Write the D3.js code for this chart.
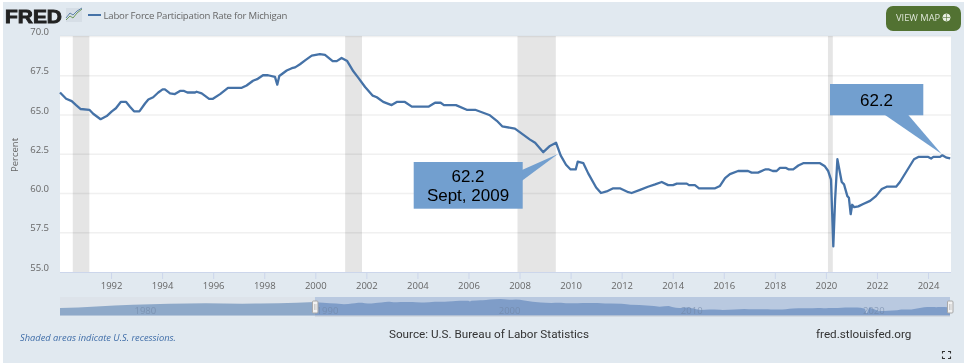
<!DOCTYPE html>
<html><head><meta charset="utf-8">
<script src="https://cdn.jsdelivr.net/npm/d3@7/dist/d3.min.js"></script>
<style>
html,body{margin:0;padding:0;background:#fff;overflow:hidden}
svg{display:block}
text{font-family:"Open Sans",sans-serif}
</style></head><body>
<svg id="c" width="966" height="364"></svg>
<script>
const seriesName = "Labor Force Participation Rate for Michigan";
const years = [1990.0,1990.24,1990.46,1990.63,1990.81,1991.15,1991.30,1991.59,1991.83,1992.03,1992.19,1992.38,1992.59,1992.74,1992.90,1993.11,1993.33,1993.46,1993.65,1993.85,1994.02,1994.11,1994.31,1994.50,1994.70,1994.86,1994.99,1995.29,1995.35,1995.55,1995.84,1995.99,1996.27,1996.58,1997.12,1997.31,1997.56,1997.72,1997.95,1998.15,1998.42,1998.51,1998.59,1998.88,1999.08,1999.21,1999.40,1999.60,1999.86,2000.18,2000.38,2000.68,2000.84,2001.03,2001.25,2001.49,2001.68,2001.95,2002.25,2002.41,2002.66,2002.99,2003.19,2003.51,2003.78,2004.43,2004.69,2004.91,2005.04,2005.51,2005.93,2006.26,2006.84,2007.11,2007.32,2007.82,2008.41,2008.61,2008.93,2009.19,2009.43,2009.61,2009.82,2010.00,2010.20,2010.28,2010.50,2010.69,2011.00,2011.19,2011.41,2011.67,2011.93,2012.26,2012.39,2012.72,2013.03,2013.31,2013.57,2013.82,2014.01,2014.16,2014.55,2014.64,2014.87,2015.03,2015.66,2015.85,2016.05,2016.24,2016.56,2016.95,2017.09,2017.34,2017.62,2017.77,2017.92,2018.07,2018.20,2018.44,2018.55,2018.72,2018.92,2019.11,2019.77,2019.96,2020.09,2020.20,2020.29,2020.36,2020.45,2020.62,2020.71,2020.84,2020.90,2020.97,2021.03,2021.11,2021.27,2021.46,2021.73,2021.96,2022.19,2022.38,2022.75,2022.90,2023.45,2023.62,2024.01,2024.12,2024.21,2024.47,2024.56,2024.73,2024.87];
const rates = [66.4,66.0,65.85,65.6,65.35,65.3,65.05,64.7,64.9,65.2,65.4,65.8,65.8,65.5,65.2,65.2,65.7,65.95,66.1,66.4,66.6,66.6,66.35,66.3,66.5,66.5,66.4,66.4,66.45,66.35,66.0,66.0,66.3,66.7,66.7,66.85,67.15,67.25,67.5,67.5,67.4,66.9,67.45,67.8,67.95,68.0,68.2,68.45,68.75,68.85,68.8,68.4,68.4,68.6,68.4,67.75,67.35,66.75,66.2,66.1,65.8,65.6,65.8,65.8,65.5,65.5,65.75,65.75,65.6,65.6,65.3,65.3,64.95,64.6,64.25,64.1,63.4,63.2,62.6,63.0,63.2,62.4,61.8,61.5,61.5,62.0,61.9,61.25,60.35,60.0,60.1,60.3,60.3,60.05,60.0,60.2,60.4,60.55,60.7,60.5,60.5,60.6,60.6,60.5,60.5,60.3,60.3,60.45,60.95,61.2,61.4,61.4,61.3,61.3,61.5,61.5,61.4,61.4,61.6,61.6,61.5,61.5,61.75,61.9,61.9,61.7,61.4,60.85,56.6,59.55,62.15,60.7,60.55,59.8,59.7,58.65,59.25,59.1,59.15,59.3,59.5,59.8,60.25,60.4,60.4,60.7,62.15,62.3,62.3,62.2,62.3,62.3,62.4,62.25,62.2];
const navYears = [1976,1977,1978,1979,1980,1981,1982,1983,1984,1985,1986,1987,1988,1989];
const navRates = [61.6,61.9,62.8,63.6,64.2,64.6,65.0,65.3,65.4,65.3,65.1,65.2,65.4,65.9];
const recessionStart = [1990.5,2001.17,2007.92,2020.08];
const recessionEnd = [1991.15,2001.83,2009.42,2020.27];
const yTicks = [55,57.5,60,62.5,65,67.5,70];
const xTicks = [1992,1994,1996,1998,2000,2002,2004,2006,2008,2010,2012,2014,2016,2018,2020,2022,2024];
const navTicks = [1980,1990,2000,2010,2020];
const calloutLabels = [["62.2","Sept, 2009"],["62.2"]];

const W=966,H=364, L=60,R=951,T=36,B=272;
const svg=d3.select("#c");
const blue="#4572a7", txt="#666";
svg.append("rect").attr("x",3).attr("y",2).attr("width",961).attr("height",361).attr("fill","#e1e9f0");
svg.append("rect").attr("x",L).attr("y",T).attr("width",R-L).attr("height",B-T).attr("fill","#fff");

const x=d3.scaleLinear().domain([1990,2024.9]).range([L,R]);
const y=d3.scaleLinear().domain([55,70]).range([B-.5,T]);

// recessions
svg.selectAll(".rec").data(recessionStart).join("rect").attr("class","rec")
  .attr("x",d=>x(d)).attr("y",T).attr("height",B-T)
  .attr("width",(d,i)=>x(recessionEnd[i])-x(d)).attr("fill","#e5e5e5");

// y axis
const yAxis=d3.axisLeft(y).tickValues(yTicks).tickFormat(d3.format(".1f")).tickSize(-(R-L)).tickPadding(11);
const gy=svg.append("g").attr("transform",`translate(${L},0)`).call(yAxis);
gy.select(".domain").remove();
gy.selectAll("line").attr("stroke","#f0f0f0").attr("stroke-width",1.4).style("mix-blend-mode","multiply");
gy.selectAll("line").filter(d=>d===55).remove();
gy.selectAll("text").attr("fill",txt).attr("font-size",9.5).attr("dy",-1.3).attr("font-family","Open Sans");

// x axis
const xAxis=d3.axisBottom(x).tickValues(xTicks).tickFormat(d3.format("d")).tickSize(7).tickPadding(3);
const gx=svg.append("g").attr("transform",`translate(0,${B})`).call(xAxis);
gx.select(".domain").attr("stroke","#ccd6eb").attr("d",`M${L},0.5H${R}`);
gx.selectAll("line").attr("stroke","#ccd6eb");
gx.selectAll("text").attr("fill",txt).attr("font-size",9.5).attr("font-family","Open Sans");

// line
const pts=years.map((d,i)=>[d,rates[i]]);
const line=d3.line().x(d=>x(d[0])).y(d=>y(d[1]));
svg.append("path").attr("d",line(pts)).attr("fill","none").attr("stroke",blue).attr("stroke-width",2.3).attr("stroke-linejoin","round");

// callouts
const co="#729fcf";
function callout(rect,tri,labels,base,cx){
  svg.append("polygon").attr("points",tri.join(" ")).attr("fill",co);
  svg.append("rect").attr("x",rect[0]).attr("y",rect[1]).attr("width",rect[2]).attr("height",rect[3]).attr("fill",co);
  labels.forEach((t,i)=>svg.append("text").text(t).attr("x",cx).attr("y",base[i]).attr("text-anchor","middle")
    .attr("font-size",17).attr("fill","#000").style("font-family","'Liberation Sans',sans-serif"));
}
callout([413.7,162,109,46.7],[[522,170],[558,154],[522,180.7]],calloutLabels[0],[182,200.7],468);
callout([830,84,93.3,31.3],[[885,115],[908.3,115],[941.7,154]],calloutLabels[1],[106],876.5);

// navigator
const nx=d3.scaleLinear().domain([1976,2024.87]).range([L,950]);
const ny=d3.scaleLinear().domain([55.4,70]).range([315.5,297.7]);
const navPts=navYears.map((d,i)=>[d,navRates[i]]).concat(pts);
const area=d3.area().x(d=>nx(d[0])).y0(315.5).y1(d=>ny(d[1]));
svg.append("rect").attr("x",L).attr("y",297).attr("width",nx(1990)-L).attr("height",19).attr("fill","#dde3ea");
svg.append("rect").attr("x",nx(1990)).attr("y",297).attr("width",950-nx(1990)).attr("height",19).attr("fill","#b9c9e0");
svg.append("path").attr("d",area(navPts.filter(d=>d[0]<=1990))).attr("fill","#8ea9c9");
svg.append("path").attr("d",area(navPts.filter(d=>d[0]>=1990))).attr("fill","#7f9dc8");
svg.append("rect").attr("x",nx(1990)).attr("y",315.5).attr("width",950-nx(1990)).attr("height",1).attr("fill","#c4c9d2");
const nAxis=d3.axisBottom(nx).tickValues(navTicks).tickFormat(d3.format("d")).tickSize(0);
const gn=svg.append("g").attr("transform","translate(12,304)").call(nAxis);
gn.select(".domain").remove();
gn.selectAll("text").attr("fill","#6f84a3").attr("font-size",9.5).attr("opacity",.6).attr("font-family","Open Sans");
[nx(1990),950].forEach(h=>{
  svg.append("rect").attr("x",h-2.5).attr("y",301).attr("width",5.5).attr("height",12).attr("rx",1)
    .attr("fill","#f2f2f2").attr("stroke","#a8a8a8").attr("stroke-width",1);
  svg.append("path").attr("d",`M${h-.5},304V310M${h+1},304V310`).attr("stroke","#bbb").attr("stroke-width",.7);
});

// header
svg.append("text").text("FRED").attr("x",5).attr("y",22.5).attr("font-size",19).attr("textLength",57).attr("lengthAdjust","spacingAndGlyphs")
  .style("font-family","'Liberation Sans',sans-serif").attr("font-weight",700).attr("fill","#222").attr("stroke","#222").attr("stroke-width",.9);
svg.append("rect").attr("x",66).attr("y",8).attr("width",16).attr("height",14).attr("fill","#d6dee6");
svg.append("path").attr("d","M66,20L70,16L73,18L77,13L82,9").attr("fill","none").attr("stroke","#6f9a5a").attr("stroke-width",1);
svg.append("path").attr("d","M66,18L70,13L73,15L77,11L82,8").attr("fill","none").attr("stroke","#5f83a8").attr("stroke-width",1);
svg.append("line").attr("x1",88).attr("x2",101).attr("y1",15).attr("y2",15).attr("stroke",blue).attr("stroke-width",2);
svg.append("text").text(seriesName).attr("x",103.5).attr("y",18.5).attr("font-size",9.6).attr("fill","#666").attr("textLength",184);

// button
svg.append("rect").attr("x",886).attr("y",6).attr("width",75).attr("height",25).attr("rx",7).attr("fill","#527232");
svg.append("text").text("VIEW MAP").attr("x",896).attr("y",21).attr("font-size",9.3).attr("fill","#dfe6d8");
const g=svg.append("g").attr("transform","translate(946.5,17.5)").attr("fill","none").attr("stroke","#e8eee2").attr("stroke-width",.9);
g.append("circle").attr("r",3.6).attr("fill","#e8eee2");
g.append("path").attr("d","M-3.6,0H3.6M0,-3.6V3.6").attr("stroke","#527232").attr("stroke-width",.6);

// y title
svg.append("text").text("Percent").attr("transform","translate(18,155) rotate(-90)").attr("text-anchor","middle").attr("font-size",9.5).attr("fill",txt);

// footer
svg.append("text").text("Shaded areas indicate U.S. recessions.").attr("x",20).attr("y",340.5).attr("font-size",9.3).attr("font-style","italic").attr("fill","#3f6da8");
svg.append("text").text("Source: U.S. Bureau of Labor Statistics").attr("x",389).attr("y",337.5).attr("font-size",11.7).attr("fill","#333").style("font-family","Roboto,sans-serif");
svg.append("text").text("fred.stlouisfed.org").attr("x",816).attr("y",337.5).attr("font-size",11.7).attr("fill","#333").style("font-family","Roboto,sans-serif");
svg.append("path").attr("d","M942.5,353.5V351.5H945M948,351.5H950.5V353.5M950.5,356.5V358.5H948M945,358.5H942.5V356.5").attr("fill","none").attr("stroke","#333").attr("stroke-width",1.1);
</script></body></html>
